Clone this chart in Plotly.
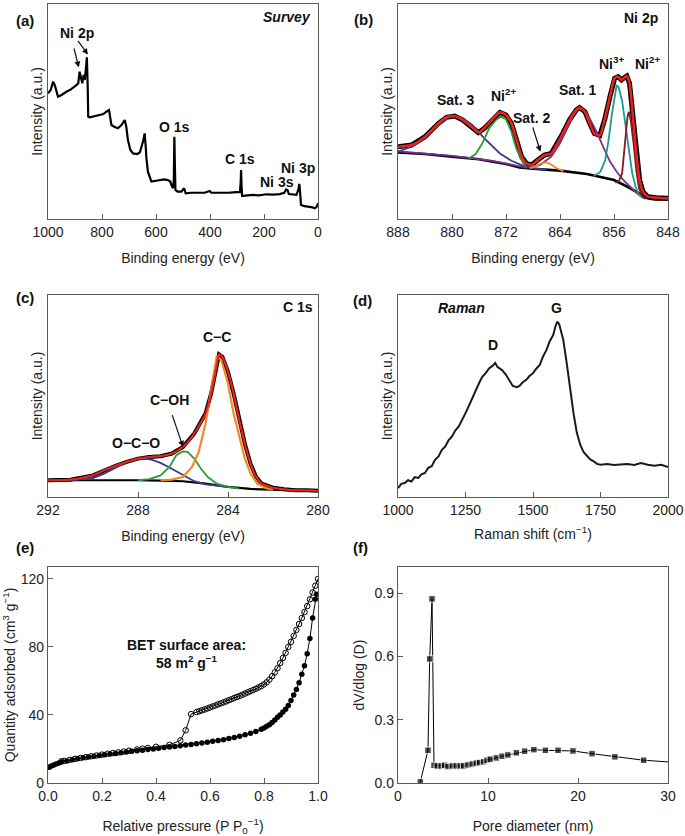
import plotly.graph_objects as go

# ---------------- (a) XPS survey ----------------
survey_be = [1000, 990, 981, 975, 963, 950, 932, 915, 895, 888, 883, 878, 873, 868, 864, 860,
             856, 853, 851, 845, 833, 820, 809, 795, 784, 774, 770, 765, 755, 741, 728, 716,
             710, 704, 695, 685, 670, 660, 648, 642, 638, 636, 630, 625, 617, 600, 586, 570,
             556, 547, 543, 537, 534, 532, 530, 528, 520, 506, 496, 490, 470, 450, 438, 420,
             401, 395, 377, 350, 330, 315, 296, 289, 286, 285, 283, 281, 270, 241, 220, 191,
             165, 142, 125, 118, 113, 108, 100, 80, 73, 69, 66, 63, 50, 31, 20, 12, 5, 0]
survey_int = [58.4, 60.0, 63.9, 62.3, 56.9, 57.7, 59.2, 60.3, 62.3, 63.1, 68.5, 65.4, 63.1, 67.0, 64.7, 69.3,
              75.2, 61.6, 47.6, 47.3, 47.6, 47.9, 48.4, 48.8, 49.9, 50.7, 47.6, 43.7, 42.9, 42.2, 43.7, 46.0,
              42.9, 36.7, 32.1, 30.5, 30.2, 30.9, 36.0, 39.8, 33.6, 29.0, 22.0, 20.5, 17.4, 17.8, 18.1, 18.4,
              18.1, 17.4, 15.8, 14.3, 18.1, 38.3, 24.3, 13.5, 12.7, 12.7, 14.3, 11.9, 12.2, 12.1, 12.2, 12.2,
              13.0, 12.2, 12.2, 12.1, 12.2, 12.4, 12.7, 12.6, 18.1, 22.8, 15.0, 10.7, 10.9, 11.2, 11.0, 11.5,
              11.3, 11.6, 12.2, 13.8, 13.5, 11.6, 11.5, 11.2, 13.5, 16.3, 11.9, 6.5, 6.0, 5.7, 5.4, 5.0, 5.7, 7.3]

# ---------------- (b) Ni 2p ----------------
ni_be = [888, 886, 884, 882, 880.8, 879.6, 878.4, 877.1, 876.1, 875.2, 873.9, 872.9, 872, 871.2, 870.5,
         869.7, 869, 868.2, 867.3, 866.3, 865.3, 864.5, 863.6, 862.6, 861.6, 861.1, 860.3, 859.6, 858.9,
         858.1, 857.4, 856.6, 855.9, 855.4, 854.9, 854.4, 854.1, 853.7, 853.2, 852.7, 852.2, 851.7, 851,
         849.7, 848]
ni_int = [33.6, 34.4, 38.3, 44.5, 47.3, 47.9, 46.0, 42.9, 40.2, 42.2, 46.8, 49.6, 48.4, 44.5, 37.5,
          29.0, 25.9, 25.1, 27.4, 29.7, 30.5, 34.4, 39.8, 46.0, 50.7, 51.8, 49.9, 44.5, 39.8,
          38.9, 46.0, 56.9, 65.5, 66.2, 64.7, 65.9, 66.5, 63.1, 47.6, 30.5, 18.1, 12.7, 10.4,
          9.9, 9.6]
ni_bg_be = [888, 884, 880, 876, 872, 870, 868, 864, 860, 856, 854, 852, 851, 850, 848]
ni_bg_int = [31.0, 30.2, 29.0, 27.8, 25.6, 24.0, 23.4, 22.5, 20.9, 18.1, 15.0, 11.2, 9.6, 9.1, 9.1]

sat3_be = [888, 886, 884, 882, 880.5, 879.6, 878.4, 877, 875.2, 873.9, 872.9, 871.2, 869.5, 868, 866]
sat3_int = [31.3, 33.6, 37.5, 43.7, 47.3, 47.9, 46.8, 43.7, 37.5, 33.6, 30.5, 27.1, 24.8, 23.6, 22.8]
ni2sat_be = [877.5, 876.5, 875.5, 874.5, 873.5, 872.8, 872, 871.2, 870.5, 869.5, 869]
ni2sat_int = [28.1, 30.2, 35.2, 42.2, 46.0, 47.6, 46.4, 40.6, 32.9, 26.2, 24.3]
sat2_be = [868.5, 867.5, 866.8, 866, 865.2, 864.5, 863.5]
sat2_int = [23.6, 24.7, 25.9, 26.4, 25.1, 23.6, 22.3]
sat1_be = [888, 880, 874, 869, 867, 865.3, 864, 863, 862, 861.2, 860.5, 859.6, 858.6, 857.6, 856.6,
           855.6, 854.6, 853.6, 852.6, 851.7]
sat1_int = [31.5, 29.4, 27.0, 23.9, 25.1, 29.0, 35.2, 42.2, 48.4, 51.5, 50.7, 46.8, 40.6, 33.6, 26.7,
            22.0, 18.1, 15.0, 11.9, 9.9]
ni3_be = [859, 858, 857.3, 856.8, 856.3, 855.8, 855.6, 855.3, 854.8, 854.3, 853.8, 853.3, 852.8, 852.3, 851.5]
ni3_int = [20.0, 22.0, 27.4, 36.7, 49.1, 60.0, 62.3, 61.2, 55.0, 43.7, 31.3, 21.2, 15.0, 11.2, 9.5]
ni2_be = [855.8, 855.3, 854.8, 854.4, 854.0, 853.8, 853.5, 853.1, 852.7, 852.3, 851.8, 851.3]
ni2_int = [16.9, 17.4, 21.2, 33.6, 47.6, 49.9, 45.3, 35.2, 22.8, 14.3, 10.4, 9.3]

# ---------------- (c) C 1s ----------------
c_be = [292, 291, 290, 289.5, 289, 288.5, 288, 287.5, 287, 286.5, 286, 285.5, 285, 284.75, 284.5,
        284.4, 284.25, 284, 283.75, 283.5, 283.25, 283, 282.75, 282.5, 282, 281.5, 281, 280.5, 280]
c_int = [8.3, 8.6, 10.7, 13.2, 15.4, 17.4, 19.0, 19.8, 20.2, 21.5, 24.8, 31.4, 41.3, 51.2, 65.3,
         70.6, 69.4, 62.0, 51.2, 38.0, 26.4, 16.5, 9.9, 6.6, 4.6, 3.8, 3.3, 3.3, 3.1]
c_bg_be = [292, 290, 288, 287, 286, 285, 284, 283, 282, 281, 280]
c_bg_int = [8.3, 8.4, 8.3, 8.1, 7.8, 6.6, 5.0, 4.0, 3.5, 3.3, 3.1]
cc_be = [287, 286.5, 286, 285.6, 285.3, 285, 284.75, 284.5, 284.3, 284, 283.75, 283.5, 283.25, 283,
         282.7, 282.3, 282]
cc_int = [8.3, 8.6, 9.9, 14.9, 22.3, 36.4, 52.9, 69.8, 67.8, 56.2, 41.3, 29.8, 19.0, 11.6, 6.6, 4.3, 3.6]
coh_be = [288, 287.5, 287, 286.6, 286.3, 286.0, 285.8, 285.5, 285.2, 284.9, 284.5, 284, 283.5]
coh_int = [8.3, 8.8, 10.7, 14.9, 20.7, 22.6, 22.3, 19.0, 14.0, 9.9, 6.6, 5.0, 4.1]
oco_be = [291, 290, 289.5, 289, 288.5, 288, 287.7, 287.4, 287, 286.5, 286, 285.5, 285, 284.5, 284]
oco_int = [8.3, 9.4, 11.6, 14.4, 17.4, 18.8, 19.0, 18.5, 16.9, 14.0, 10.7, 7.8, 6.3, 5.5, 5.0]

# ---------------- (d) Raman ----------------
raman_shift = [1000, 1012, 1025, 1037, 1050, 1062, 1075, 1087, 1100, 1112, 1125, 1137, 1150, 1162,
               1175, 1187, 1200, 1212, 1225, 1237, 1250, 1262, 1275, 1287, 1300, 1312, 1325, 1337,
               1350, 1360, 1368, 1375, 1387, 1400, 1412, 1425, 1440, 1450, 1462, 1475, 1487, 1500,
               1512, 1525, 1537, 1550, 1562, 1575, 1583, 1590, 1597, 1605, 1612, 1625, 1637, 1650,
               1662, 1675, 1687, 1700, 1712, 1725, 1737, 1750, 1775, 1800, 1825, 1850, 1875, 1900,
               1925, 1950, 1975, 2000]
raman_int = [4.4, 6.5, 6.9, 8.3, 7.7, 9.8, 9.4, 11.2, 11.9, 14.5, 15.2, 18.4, 20.1, 23.2,
             25.0, 28.0, 30.0, 32.9, 34.9, 38.5, 41.5, 45.0, 48.9, 53.1, 56.3, 59.5, 61.3, 63.6,
             64.9, 66.4, 64.5, 63.8, 62.6, 60.5, 57.9, 55.0, 54.4, 55.0, 56.8, 58.0, 59.9, 61.3,
             63.5, 65.4, 69.5, 72.8, 77.1, 80.2, 84.4, 86.8, 85.5, 82.1, 77.9, 66.2, 53.0, 41.5,
             32.0, 25.9, 22.3, 20.1, 18.6, 17.6, 16.4, 16.0, 16.3, 15.8, 16.1, 16.3, 15.9, 16.8,
             16.0, 15.5, 15.9, 14.8]

# ---------------- (e) N2 isotherm ----------------
ads_p = [0.005, 0.01, 0.02, 0.03, 0.04, 0.05, 0.07, 0.09, 0.11, 0.13, 0.15, 0.17, 0.19, 0.21, 0.23,
         0.25, 0.27, 0.29, 0.31, 0.33, 0.35, 0.37, 0.39, 0.41, 0.43, 0.45, 0.47, 0.49, 0.51, 0.53,
         0.55, 0.57, 0.59, 0.61, 0.63, 0.65, 0.67, 0.69, 0.71, 0.73, 0.75, 0.77, 0.79, 0.80, 0.81,
         0.82, 0.83, 0.84, 0.85, 0.86, 0.87, 0.88, 0.89, 0.90, 0.91, 0.92, 0.93, 0.94, 0.95, 0.96,
         0.97, 0.98, 0.99, 0.995]
ads_q = [9.3, 9.8, 10.4, 11.2, 11.8, 12.3, 13.0, 13.6, 14.2, 14.8, 15.3, 15.8, 16.2, 16.6, 17.0,
         17.4, 17.8, 18.2, 18.6, 19.0, 19.3, 19.7, 20.0, 20.4, 20.8, 21.1, 21.5, 21.9, 22.3, 22.7,
         23.1, 23.5, 24.0, 24.5, 25.0, 25.5, 26.1, 26.8, 27.5, 28.3, 29.2, 30.3, 31.6, 32.4, 33.3,
         34.3, 35.6, 37.0, 38.6, 40.0, 41.8, 43.3, 45.5, 48.5, 51.8, 55.0, 59.0, 64.0, 69.0, 76.0,
         85.0, 97.0, 108.0, 111.0]
des_p = [1.0, 0.99, 0.98, 0.97, 0.96, 0.95, 0.94, 0.93, 0.92, 0.91, 0.90, 0.89, 0.88, 0.87, 0.86,
         0.85, 0.84, 0.83, 0.82, 0.81, 0.80, 0.79, 0.78, 0.77, 0.76, 0.75, 0.74, 0.73, 0.72, 0.71,
         0.70, 0.69, 0.68, 0.67, 0.66, 0.65, 0.64, 0.63, 0.62, 0.61, 0.60, 0.59, 0.58, 0.57, 0.56,
         0.55, 0.53, 0.51, 0.49, 0.45, 0.40, 0.37, 0.35, 0.33, 0.30, 0.28, 0.26, 0.24, 0.22, 0.20,
         0.18, 0.16, 0.14, 0.12, 0.10, 0.08, 0.06, 0.05]
des_q = [120, 116, 112, 108, 104, 100.5, 97, 93.5, 90, 86.5, 83, 80, 76.5, 73.5, 70.5,
         67.5, 65, 62.8, 60.8, 59.2, 58, 57, 56.2, 55.4, 54.7, 54.0, 53.3, 52.6, 51.9, 51.2,
         50.6, 50.0, 49.3, 48.7, 48.0, 47.4, 46.8, 46.2, 45.6, 45.0, 44.4, 43.8, 43.2, 42.7, 42.2,
         41.7, 40.5, 31.0, 25.0, 22.5, 21.3, 20.6, 20.2, 19.7, 19.0, 18.5, 18.0, 17.6, 17.2, 16.7,
         16.2, 15.7, 15.2, 14.7, 14.2, 13.6, 13.0, 12.8]

# ---------------- (f) pore size distribution ----------------
pore_d = [2.48, 3.33, 3.52, 3.78, 4.0, 4.37, 4.81, 5.19, 5.56, 6.04, 6.48, 6.93, 7.3, 7.78, 8.26,
          8.7, 9.07, 9.52, 9.9, 10.26, 10.93, 11.56, 12.2, 13.15, 14.07, 15.1, 16.37, 17.78, 19.44,
          21.56, 24.1, 27.3, 30.0]
pore_dv = [0.005, 0.155, 0.588, 0.873, 0.084, 0.081, 0.081, 0.084, 0.078, 0.081, 0.081, 0.081, 0.081,
           0.086, 0.09, 0.094, 0.097, 0.101, 0.108, 0.113, 0.119, 0.127, 0.133, 0.143, 0.151, 0.158,
           0.155, 0.155, 0.152, 0.139, 0.124, 0.108, 0.10]

W, H = 685, 836
FONT = "Arial, Liberation Sans, sans-serif"
FRAME = "#5a5a5a"


def xdom(l, r):
    return [l / W, r / W]


def ydom(t, b):
    return [1 - b / H, 1 - t / H]


fig = go.Figure()


def line(x, y, n, color, width):
    fig.add_trace(go.Scatter(x=x, y=y, mode="lines", xaxis=f"x{n}", yaxis=f"y{n}",
                             line=dict(color=color, width=width), showlegend=False,
                             hoverinfo="skip"))


# (a)
line(survey_be, survey_int, 1, "black", 2.2)

# (b)
line(ni_be, ni_int, 2, "black", 5)
line(ni_bg_be, ni_bg_int, 2, "black", 2.6)
line(sat1_be, sat1_int, 2, "#7b2f8f", 1.8)
line(sat3_be, sat3_int, 2, "#3a3d8f", 1.8)
line(ni2sat_be, ni2sat_int, 2, "#2e9a3a", 1.8)
line(sat2_be, sat2_int, 2, "#f28a24", 1.8)
line(ni3_be, ni3_int, 2, "#1f9a8c", 1.8)
line(ni2_be, ni2_int, 2, "#7a1e2c", 1.8)
fig.add_trace(go.Scatter(x=ni_be, y=ni_int, mode="lines", xaxis="x2", yaxis="y2",
                         line=dict(color="#e8231c", width=2.6, shape="spline", smoothing=0.6),
                         showlegend=False, hoverinfo="skip"))

# (c)
line(c_be, c_int, 3, "black", 4)
line(c_bg_be, c_bg_int, 3, "black", 2.2)
line(oco_be, oco_int, 3, "#3a3d8f", 1.8)
line(coh_be, coh_int, 3, "#2e9a3a", 1.8)
line(cc_be, cc_int, 3, "#f28a24", 2.2)
fig.add_trace(go.Scatter(x=c_be, y=c_int, mode="lines", xaxis="x3", yaxis="y3",
                         line=dict(color="#e8231c", width=2.2, shape="spline", smoothing=0.6),
                         showlegend=False, hoverinfo="skip"))

# (d)
line(raman_shift, raman_int, 4, "#1a1a1a", 2.0)

# (e)
fig.add_trace(go.Scatter(x=ads_p, y=ads_q, mode="lines+markers", xaxis="x5", yaxis="y5",
                         line=dict(color="black", width=1),
                         marker=dict(symbol="circle", size=5.5, color="black"),
                         showlegend=False, hoverinfo="skip"))
fig.add_trace(go.Scatter(x=des_p, y=des_q, mode="lines+markers", xaxis="x5", yaxis="y5",
                         line=dict(color="black", width=1),
                         marker=dict(symbol="circle-open", size=5.5, color="black",
                                     line=dict(width=1)),
                         showlegend=False, hoverinfo="skip"))

# (f)
fig.add_trace(go.Scatter(x=pore_d, y=pore_dv, mode="lines+markers", xaxis="x6", yaxis="y6",
                         line=dict(color="black", width=1),
                         marker=dict(symbol="square", color="black",
                                     size=[6.5] * (len(pore_d) - 1) + [0]),
                         showlegend=False, hoverinfo="skip"))

axis_base = dict(showline=True, mirror=True, linecolor=FRAME, linewidth=1.3,
                 ticks="inside", ticklen=5, tickcolor=FRAME, tickwidth=1,
                 showgrid=False, zeroline=False, automargin=False,
                 tickfont=dict(family=FONT, size=14, color="#222"),
                 title_font=dict(family=FONT, size=14, color="#222"))
noy = dict(showticklabels=False, ticks="", range=[0, 100])

cols = [(48, 318), (398, 668)]
rows = [(4, 219), (295, 497), (567, 783)]


def xax(n, col, row, **kw):
    return dict(axis_base, domain=xdom(*cols[col]), anchor=f"y{n}" if n > 1 else "y", **kw)


def yax(n, col, row, **kw):
    return dict(axis_base, domain=ydom(*rows[row]), anchor=f"x{n}" if n > 1 else "x", **kw)


be_title = dict(text="Binding energy (eV)", standoff=14)
int_title = dict(text="Intensity (a.u.)", standoff=0)

fig.update_layout(
    width=W, height=H,
    margin=dict(l=0, r=0, t=0, b=0),
    plot_bgcolor="white", paper_bgcolor="white",
    font=dict(family=FONT, color="#222"),
    xaxis=xax(1, 0, 0, range=[1000, 0], tickvals=[1000, 800, 600, 400, 200, 0], title=be_title),
    yaxis=yax(1, 0, 0, title=int_title, **noy),
    xaxis2=xax(2, 1, 0, range=[888, 848], tickvals=[888, 880, 872, 864, 856, 848], title=be_title),
    yaxis2=yax(2, 1, 0, title=int_title, **noy),
    xaxis3=xax(3, 0, 1, range=[292, 280], tickvals=[292, 288, 284, 280], title=be_title),
    yaxis3=yax(3, 0, 1, title=int_title, **noy),
    xaxis4=xax(4, 1, 1, range=[1000, 2000], tickvals=[1000, 1250, 1500, 1750, 2000],
               title=dict(text="Raman shift (cm<sup>−1</sup>)", standoff=12)),
    yaxis4=yax(4, 1, 1, title=int_title, **noy),
    xaxis5=xax(5, 0, 2, range=[0, 1], tickvals=[0, 0.2, 0.4, 0.6, 0.8, 1.0], tickformat=".1f",
               title=dict(text="Relative pressure (P P<sub>0</sub><sup>−1</sup>)", standoff=18)),
    yaxis5=yax(5, 0, 2, range=[0, 127], tickvals=[0, 40, 80, 120],
               title=dict(text="Quantity adsorbed (cm<sup>3</sup> g<sup>−1</sup>)", standoff=6)),
    xaxis6=xax(6, 1, 2, range=[0, 30], tickvals=[0, 10, 20, 30],
               title=dict(text="Pore diameter (nm)", standoff=18)),
    yaxis6=yax(6, 1, 2, range=[0, 1.024], tickvals=[0, 0.3, 0.6, 0.9], tickformat=".1f",
               title=dict(text="dV/dlog (D)", standoff=6)),
)

ann = []


def label(text, x, y, n, size=14, italic=False):
    t = f"<b>{text}</b>"
    if italic:
        t = f"<i>{t}</i>"
    ann.append(dict(text=t, x=x, y=y, xref=f"x{n}", yref=f"y{n}", showarrow=False,
                    font=dict(family=FONT, size=size, color="#111")))


def arrow(x0, y0, x1, y1, n):
    ann.append(dict(text="", x=x1, y=y1, ax=x0, ay=y0, xref=f"x{n}", yref=f"y{n}",
                    axref=f"x{n}", ayref=f"y{n}", showarrow=True, arrowhead=2,
                    arrowsize=1, arrowwidth=1.2, arrowcolor="#111"))


# panel letters
for txt, px, py in [("(a)", 14, 10), ("(b)", 363, 9), ("(c)", 14, 298),
                    ("(d)", 362, 300), ("(e)", 14, 547), ("(f)", 361, 547)]:
    ann.append(dict(text=f"<b>{txt}</b>", x=px / W, y=1 - py / H, xref="paper", yref="paper",
                    showarrow=False, font=dict(family=FONT, size=15, color="#111")))

# (a)
label("Survey", 115, 94, 1, italic=True)
label("Ni 2p", 893, 86.5, 1)
label("O 1s", 530, 42.8, 1)
label("C 1s", 289, 27.9, 1)
label("Ni 3s", 152, 17.2, 1)
label("Ni 3p", 74, 23.7, 1)
arrow(905, 80, 886, 70.5, 1)
arrow(893, 83.5, 852, 76.5, 1)

# (b)
label("Ni 2p", 852, 93.3, 2)
label("Sat. 3", 879.4, 55.3, 2)
label("Ni<sup>2+</sup>", 872.4, 57.7, 2)
label("Sat. 2", 868.2, 46.8, 2)
label("Sat. 1", 861.3, 60.0, 2)
label("Ni<sup>3+</sup>", 856.4, 72.4, 2)
label("Ni<sup>2+</sup>", 851.0, 72.4, 2)
arrow(868.1, 43.3, 866.9, 31.3, 2)

# (c)
label("C 1s", 280.9, 93.9, 3)
label("C−C", 284.5, 79.3, 3)
label("C−OH", 286.6, 47.9, 3)
label("O−C−O", 288.1, 26.8, 3)
arrow(286.5, 41.3, 286.0, 24.8, 3)

# (d)
label("Raman", 1235, 93.4, 4, italic=True)
label("G", 1586, 93.4, 4)
label("D", 1352, 75.3, 4)

# (e)
label("BET surface area:<br>58 m<sup>2</sup> g<sup>−1</sup>", 0.512, 75.8, 5)

fig.update_layout(annotations=ann)

fig.write_html("out.html", config={"displayModeBar": False},
               post_script="document.body.style.margin='0';")
